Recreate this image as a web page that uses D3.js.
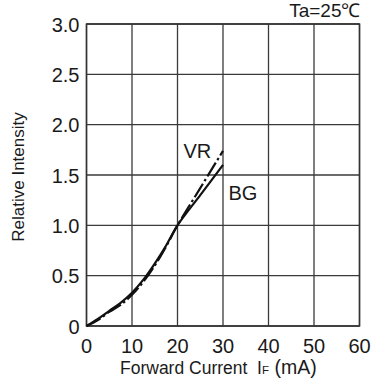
<!DOCTYPE html>
<html><head><meta charset="utf-8">
<script src="https://cdn.jsdelivr.net/npm/d3@7"></script>
<style>body{margin:0;background:#fff}svg{display:block}text{font-family:"Liberation Sans",Arial,sans-serif;fill:#1a1a1a}</style>
</head><body>
<script>
const current = [0, 2.5, 5, 7.5, 10, 12.5, 15, 17.5, 20, 25, 30];
const bgValues = [0, 0.07, 0.15, 0.23, 0.33, 0.46, 0.62, 0.80, 1.0, 1.3, 1.6];
const vrValues = [0, 0.06, 0.14, 0.21, 0.31, 0.44, 0.60, 0.79, 1.0, 1.37, 1.74];
const xTicks = [0, 10, 20, 30, 40, 50, 60];
const yTicks = [0, 0.5, 1.0, 1.5, 2.0, 2.5, 3.0];
const yTickLabels = ["0", "0.5", "1.0", "1.5", "2.0", "2.5", "3.0"];

const W = 372, H = 382;
const m = {left: 86.5, right: 12.5, top: 24, bottom: 56};
const svg = d3.select("body").append("svg").attr("width", W).attr("height", H);
const x = d3.scaleLinear().domain([0, 60]).range([m.left, W - m.right]);
const y = d3.scaleLinear().domain([0, 3]).range([H - m.bottom, m.top]);

const g = svg.append("g");
// grid
g.selectAll(".vx").data(xTicks).enter().append("line")
  .attr("x1", d => x(d)).attr("x2", d => x(d)).attr("y1", y(0)).attr("y2", y(3))
  .attr("stroke", "#3a3a3a").attr("stroke-width", 1.3);
g.selectAll(".hy").data(yTicks).enter().append("line")
  .attr("y1", d => y(d)).attr("y2", d => y(d)).attr("x1", x(0)).attr("x2", x(60))
  .attr("stroke", "#3a3a3a").attr("stroke-width", 1.3);
g.append("rect").attr("x", x(0)).attr("y", y(3)).attr("width", x(60) - x(0)).attr("height", y(0) - y(3))
  .attr("fill", "none").attr("stroke", "#333").attr("stroke-width", 1.5);

// tick labels
g.selectAll(".xl").data(xTicks).enter().append("text")
  .attr("x", d => x(d)).attr("y", y(0) + 26.5).attr("text-anchor", "middle")
  .attr("font-size", 20).text(d => d);
g.selectAll(".yl").data(yTicks).enter().append("text")
  .attr("x", x(0) - 7).attr("y", d => y(d) + 7.5).attr("text-anchor", "end")
  .attr("font-size", 20).text((d, i) => yTickLabels[i]);

// curves
const line = d3.line().x(d => x(d[0])).y(d => y(d[1])).curve(d3.curveCatmullRom);
g.append("path").datum(current.map((c, i) => [c, bgValues[i]])).attr("d", line)
  .attr("fill", "none").attr("stroke", "#111").attr("stroke-width", 2.2);
g.append("path").datum(current.map((c, i) => [c, vrValues[i]])).attr("d", line)
  .attr("fill", "none").attr("stroke", "#111").attr("stroke-width", 2.2)
  .attr("stroke-dasharray", "16,3,2.5,3");

// labels
g.append("text").attr("x", x(21.3)).attr("y", y(1.67)).attr("font-size", 20).text("VR");
g.append("text").attr("x", x(31.2)).attr("y", y(1.25)).attr("font-size", 20).text("BG");
g.append("text").attr("x", x(60) + 1).attr("y", 17).attr("text-anchor", "end").attr("font-size", 19).text("Ta=25℃");

// axis titles
const xt = g.append("text").attr("x", 120).attr("y", 374).attr("font-size", 17.5).attr("xml:space", "preserve").style("white-space", "pre");
xt.append("tspan").text("Forward Current  I");
xt.append("tspan").attr("font-size", 11.5).text("F");
xt.append("tspan").attr("font-size", 19.5).text(" (mA)");
g.append("text").attr("transform", `translate(24,${(y(0) + y(3)) / 2 + 2}) rotate(-90)`)
  .attr("text-anchor", "middle").attr("font-size", 17).text("Relative Intensity");
</script>
</body></html>
